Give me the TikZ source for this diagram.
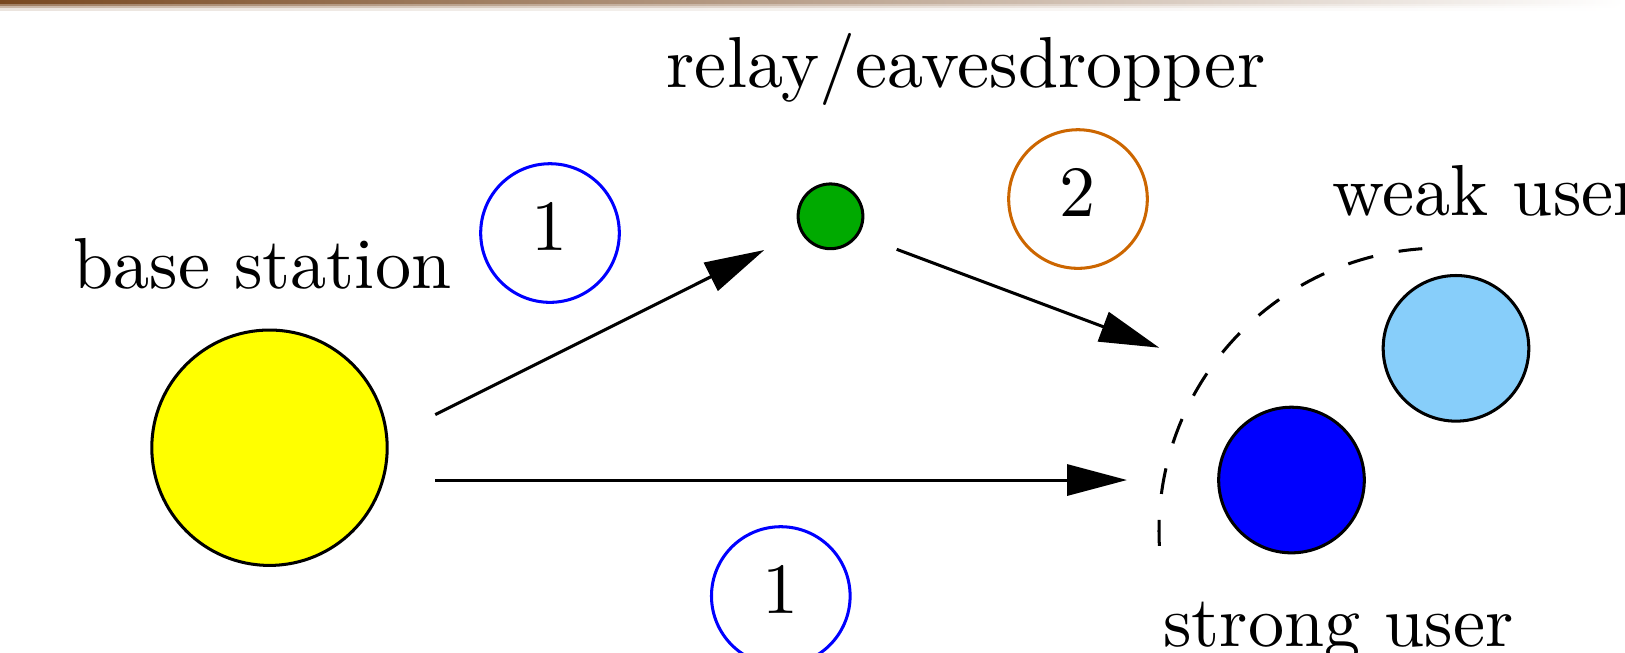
\documentclass[tikz,border=0pt]{standalone}
\usetikzlibrary{arrows.meta}
\definecolor{hbrown}{RGB}{120,72,32}
\definecolor{bsyellow}{RGB}{255,255,0}
\definecolor{relaygreen}{RGB}{0,170,0}
\definecolor{weakblue}{RGB}{135,206,250}
\definecolor{strongblue}{RGB}{0,0,255}
\definecolor{phasetwo}{RGB}{204,102,0}
\begin{document}
\begin{tikzpicture}[x=0.1385pt,y=-0.1385pt,
  dev/.style={circle,draw=black,line width=0.42pt,inner sep=0pt},
  phase/.style={circle,draw,line width=0.42pt,inner sep=0pt,minimum size=19.2pt,text depth=1.7pt,font=\normalsize},
  lbl/.style={inner sep=0pt,font=\normalsize},
  link/.style={line width=0.42pt,-{Triangle[length=8.3pt,width=4.3pt]}},
  zone/.style={line width=0.42pt,dash pattern=on 3.6pt off 3.6pt}
]
\useasboundingbox (0,0) rectangle (1625,652);
% header band
\shade[left color=hbrown,right color=white] (0,0) rectangle (1625,4.2);
\shade[left color=hbrown!70!white,right color=white] (0,4) rectangle (1625,6.2);
\shade[left color=hbrown!40!white,right color=white] (0,6) rectangle (1625,8.2);
\shade[left color=hbrown!15!white,right color=white] (0,8) rectangle (1625,10);

% devices
\node[dev,fill=bsyellow,minimum size=32.6pt] (bs) at (269.5,447.7) {};
\node[dev,fill=relaygreen,minimum size=8.97pt] (relay) at (830.5,216.3) {};
\node[dev,fill=strongblue,minimum size=20.17pt] (strong) at (1291.5,480) {};
\node[dev,fill=weakblue,minimum size=20.17pt] (weak) at (1456,348.3) {};

% labels
\node[lbl,anchor=base west] (bslbl) at (72,288.3) {base station};
\node[lbl,anchor=base] (relaylbl) at (966,87) {relay/eavesdropper};
\node[lbl,anchor=base west] (weaklbl) at (1331,215) {weak user};
\node[lbl,anchor=base west] (stronglbl) at (1162,646) {strong user};

% phase markers
\node[phase,draw=strongblue] (p1a) at (550,233) {1};
\node[phase,draw=strongblue] (p1b) at (780.8,596) {1};
\node[phase,draw=phasetwo] (p2) at (1078,199) {2};

% connectors
\coordinate (a1s) at (435.3,414.6);
\coordinate (a1e) at (764.3,250);
\coordinate (a2s) at (896.7,249.3);
\coordinate (a2e) at (1159.3,347.7);
\coordinate (a3s) at (435.3,480);
\coordinate (a3e) at (1127,480);
\draw[link] (a1s) -- (a1e);
\draw[link] (a2s) -- (a2e);
\draw[link] (a3s) -- (a3e);

% coverage arc
\draw[zone] (1159.4,545.8) arc[start angle=177,end angle=266,radius=283];
\end{tikzpicture}
\end{document}
